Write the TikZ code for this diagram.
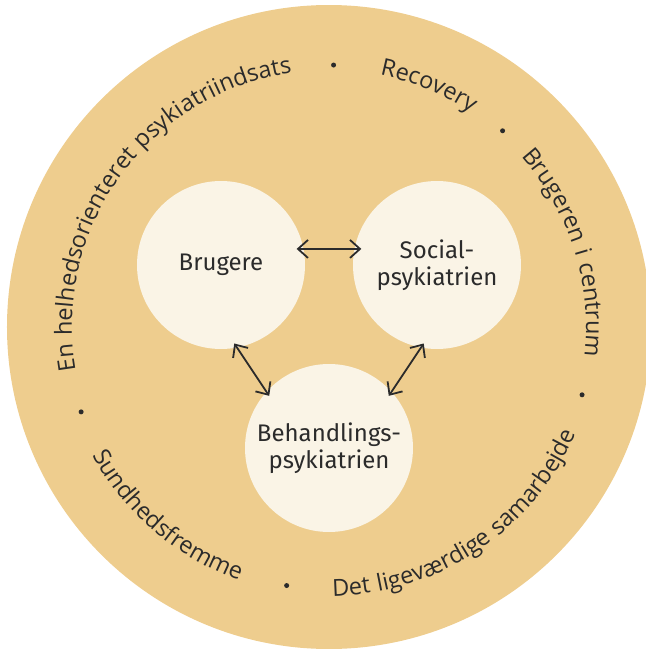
\documentclass[tikz,border=0pt]{standalone}
\usepackage{fontspec}
\setmainfont{Fira Sans}
\newfontfamily\ringfont[LetterSpace=6]{Open Sans}
\usetikzlibrary{arrows.meta,decorations.text}

\definecolor{sand}{HTML}{EECD8E}
\definecolor{cream}{HTML}{FAF4E6}
\definecolor{ink}{HTML}{2B2B2B}

\begin{document}
\begin{tikzpicture}[x=1pt,y=1pt,
    bubble/.style={circle,fill=cream,minimum size=168pt,inner sep=0pt,align=center,
      text=ink,font=\fontsize{24}{27}\selectfont},
    link/.style={{Straight Barb[length=10pt,width=18pt]}-{Straight Barb[length=10pt,width=18pt]},
      line width=1.8pt,draw=ink},
    ring/.style={decorate,decoration={text along path,text align=center,text color=ink,
      text={|\fontsize{23.5}{23.5}\ringfont|#1}}}]
  \useasboundingbox (-329,-322) rectangle (317,327);
  \clip (-329,-322) rectangle (317,327);
  \fill[sand] (0,0) circle (322);

  \node[bubble] (brugere) at (-108,62) {Brugere};
  \node[bubble] (social) at (108,62) {Social-\\psykiatrien};
  \node[bubble] (behandling) at (0,-121) {Behandlings-\\psykiatrien};

  \draw[link,shorten <=-7pt,shorten >=-7pt] (brugere.11) -- (social.169);
  \draw[link,shorten <=-5pt,shorten >=-5pt] (brugere.-79) -- (behandling.138);
  \draw[link,shorten <=-5pt,shorten >=-5pt] (social.-101) -- (behandling.42);

  % outer ring
  \path[ring={En helhedsorienteret psykiatriindsats}] (204:257) arc (204:84:257);
  \path[ring={Recovery}] (87.5:257) arc (87.5:47.5:257);
  \path[ring={Brugeren i centrum}] (52.5:257) arc (52.5:-17.5:257);
  \path[ring={Sundhedsfremme}] (194.5:269) arc (194.5:264.5:269);
  \path[ring={Det ligeværdige samarbejde}] (258.7:269) arc (258.7:348.7:269);

  \foreach \a in {89,48.5,-15,260.7,198.9}
    \fill[ink] (\a:262) circle (2.5);
\end{tikzpicture}
\end{document}
